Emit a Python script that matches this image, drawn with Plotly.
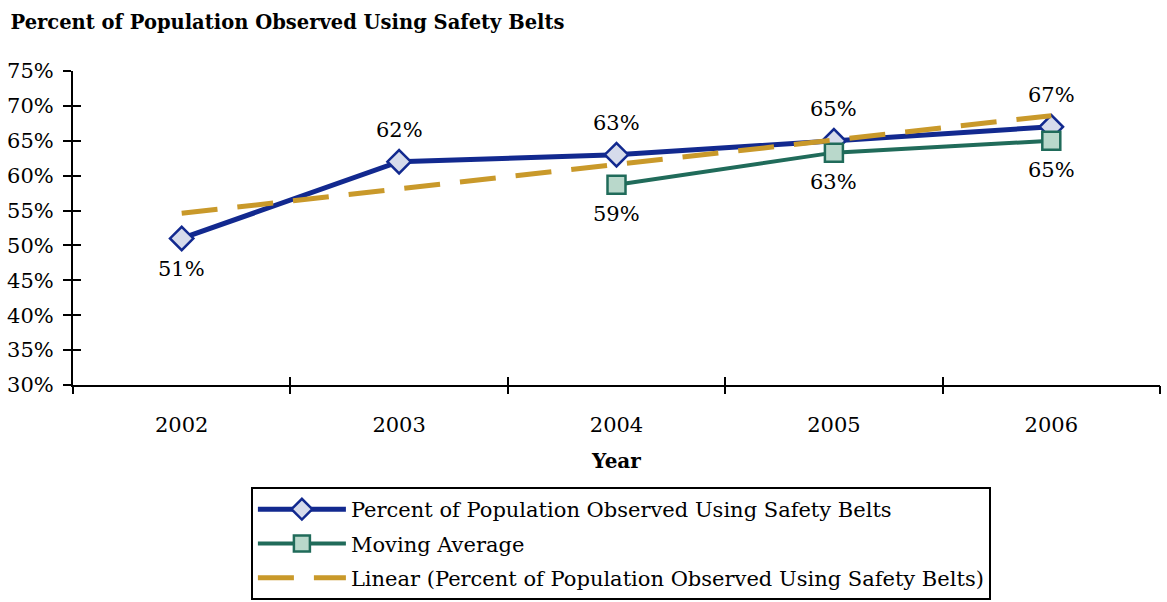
"""Safety belt usage chart."""

import plotly.graph_objects as go

years = [2002, 2003, 2004, 2005, 2006]
belt_use = [51, 62, 63, 65, 67]
moving_avg = [None, None, 58.7, 63.3, 65.0]
linear_trend = [54.6, 58.1, 61.6, 65.1, 68.6]

belt_labels = ["51%", "62%", "63%", "65%", "67%"]
belt_above = [False, True, True, True, True]
avg_labels = [None, None, "59%", "63%", "65%"]

y_ticks = list(range(30, 80, 5))
boundaries = [2001.5, 2002.5, 2003.5, 2004.5, 2005.5, 2006.5]

FONT = "Palatino Linotype, Book Antiqua, Palatino, DejaVu Serif, serif"
NAVY = "#12298f"
GREEN = "#206b5a"
GOLD = "#c9992a"

fig = go.Figure()

fig.add_trace(go.Scatter(
    x=years, y=belt_use, name="Percent of Population Observed Using Safety Belts",
    mode="lines+markers", legendgroup="a",
    line=dict(color=NAVY, width=5),
    marker=dict(symbol="diamond", size=18, color="#d6dbeb", line=dict(color=NAVY, width=2.5)),
))
fig.add_trace(go.Scatter(
    x=years, y=moving_avg, name="Moving Average",
    mode="lines+markers", legendgroup="b",
    line=dict(color=GREEN, width=4),
    marker=dict(symbol="square", size=18, color="#b9d8cb", line=dict(color=GREEN, width=2.5)),
))
fig.add_trace(go.Scatter(
    x=years, y=linear_trend, name="Linear (Percent of Population Observed Using Safety Belts)",
    mode="lines", legendgroup="c", line=dict(color=GOLD, width=5, dash="36px,20px"),
))

# data labels
for yr, val, lab, up in zip(years, belt_use, belt_labels, belt_above):
    fig.add_annotation(x=yr, y=val, text=lab, showarrow=False,
                       yshift=32 if up else -31, font=dict(size=21))
for yr, val, lab in zip(years, moving_avg, avg_labels):
    if lab:
        fig.add_annotation(x=yr, y=val, text=lab, showarrow=False, yshift=-29,
                           font=dict(size=21))

# overlay axes only carry the crossing tick marks
fig.add_trace(go.Scatter(x=[2002], y=[30], xaxis="x2", yaxis="y2", mode="none",
                         showlegend=False, hoverinfo="skip"))
fig.add_trace(go.Scatter(x=[2002], y=[30], xaxis="x3", yaxis="y3", mode="none",
                         showlegend=False, hoverinfo="skip"))

fig.update_layout(
    width=1167, height=602,
    margin=dict(l=73, r=7, t=71, b=217, autoexpand=False),
    paper_bgcolor="white", plot_bgcolor="white",
    font=dict(family=FONT, size=21, color="black"),
    title=dict(text="<b>Percent of Population Observed Using Safety Belts</b>",
               x=0.009, xanchor="left", y=0.963, yanchor="middle",
               font=dict(size=19.5, family=FONT)),
    xaxis=dict(range=[2001.5, 2006.5], tickvals=years, ticktext=[str(y) for y in years],
               ticks="", showline=True, linecolor="black", linewidth=2, showgrid=False,
               zeroline=False, ticklabelstandoff=20,
               title=dict(text="<b>Year</b>", font=dict(size=20), standoff=18)),
    yaxis=dict(range=[30, 75], tickvals=y_ticks, ticktext=[f"{v}%" for v in y_ticks],
               ticks="outside", ticklen=8, tickwidth=2, tickcolor="black",
               showline=True, linecolor="black", linewidth=2, showgrid=False,
               zeroline=False, ticklabelstandoff=5),
    xaxis2=dict(overlaying="x", anchor="y", range=[2001.5, 2006.5], tickvals=boundaries,
                ticks="outside", ticklen=8, tickwidth=2, tickcolor="black",
                showticklabels=False, showgrid=False, zeroline=False, showline=False),
    yaxis2=dict(overlaying="y", anchor="x", range=[30, 75], showticklabels=False,
                ticks="", showgrid=False, zeroline=False),
    xaxis3=dict(overlaying="x", anchor="y", range=[2001.5, 2006.5], tickvals=boundaries,
                ticks="inside", ticklen=8, tickwidth=2, tickcolor="black",
                showticklabels=False, showgrid=False, zeroline=False, showline=False),
    yaxis3=dict(overlaying="y", anchor="x", range=[30, 75], tickvals=y_ticks,
                ticks="inside", ticklen=8, tickwidth=2, tickcolor="black",
                showticklabels=False, showgrid=False, zeroline=False),
    legend=dict(xref="container", yref="container", x=0.215, y=0.191,
                xanchor="left", yanchor="top", bordercolor="black", borderwidth=2,
                bgcolor="white", font=dict(size=21), tracegroupgap=4,
                itemwidth=88),
    showlegend=True,
)

# the page body has a default 8px margin; drop it so the figure sits at 0,0
fig.write_html("out.html", config={"displayModeBar": False},
               post_script="document.body.style.margin = '0';")
